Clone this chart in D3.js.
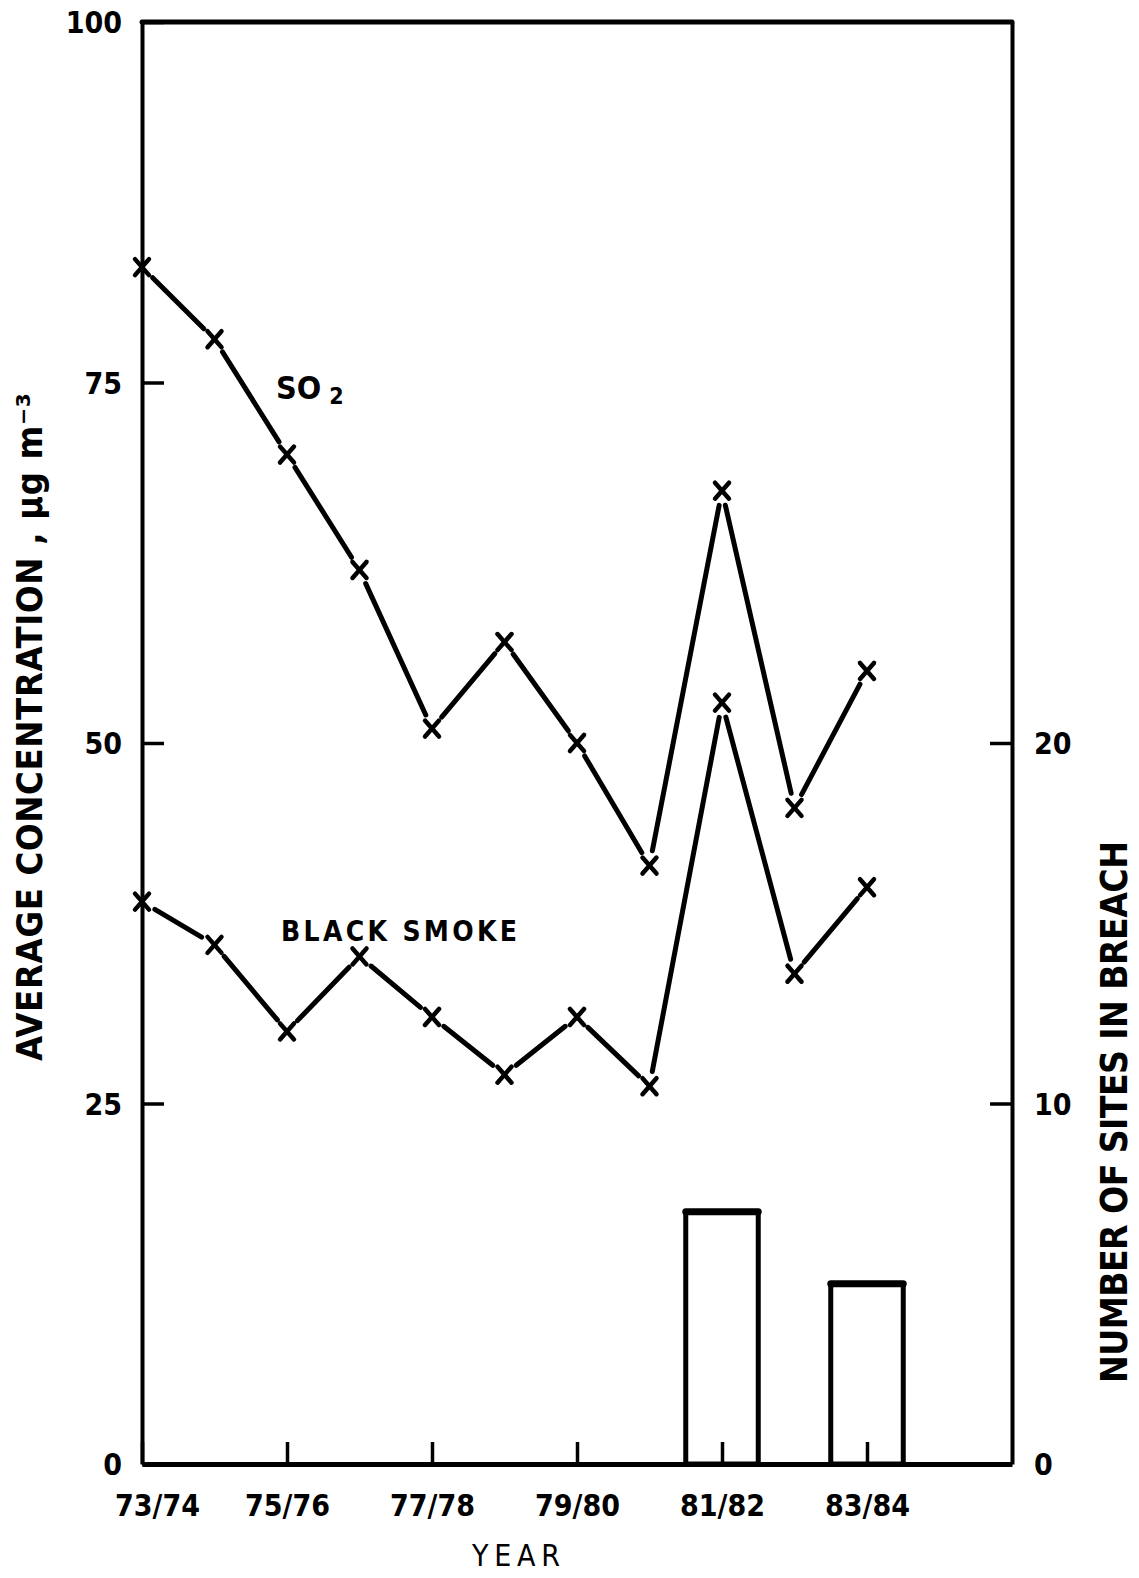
<!DOCTYPE html>
<html>
<head>
<meta charset="utf-8">
<script src="https://cdn.jsdelivr.net/npm/d3@7/dist/d3.min.js"></script>
<style>
  html, body { margin: 0; padding: 0; background: #fff; }
  svg { display: block; }
  .tick text { font-family: "DejaVu Sans Condensed", "DejaVu Sans", sans-serif; font-size: 30px; font-weight: bold; fill: #000; }
  .lbl { font-family: "DejaVu Sans Condensed", "DejaVu Sans", sans-serif; fill: #000; }
</style>
</head>
<body>
<script>
// Winter averages of SO2 and black smoke, with the number of sites breaching the limit
const years = ["73/74", "74/75", "75/76", "76/77", "77/78", "78/79", "79/80", "80/81", "81/82", "82/83", "83/84"];
const so2 = [83, 78, 70, 62, 51, 57, 50, 41.5, 67.5, 45.5, 55];
const blackSmoke = [39, 36, 30, 35.2, 31, 27, 31, 26.2, 52.8, 34, 40];
const sitesInBreach = [0, 0, 0, 0, 0, 0, 0, 0, 7, 0, 5];
const leftTicks = [0, 25, 50, 75, 100];
const rightTicks = [0, 10, 20];
const yearTicks = [0, 2, 4, 6, 8, 10];

const W = 1139, H = 1578;
const m = { left: 142, right: 1012, top: 22, bottom: 1464 };

const svg = d3.select("body").append("svg").attr("width", W).attr("height", H);

const x = d3.scaleLinear().domain([0, 12]).range([m.left, m.right]);
const y = d3.scaleLinear().domain([0, 100]).range([m.bottom, m.top]);
const y2 = d3.scaleLinear().domain([0, 40]).range([m.bottom, m.top]);

// Bars: sites in breach (right axis)
const barW = x(1) - x(0);
const bars = sitesInBreach.map((v, i) => ({ i, v })).filter(d => d.v > 0);
svg.selectAll("rect.bar").data(bars).enter().append("rect")
  .attr("class", "bar")
  .attr("x", d => x(d.i) - barW / 2)
  .attr("y", d => y2(d.v))
  .attr("width", barW)
  .attr("height", d => y2(0) - y2(d.v))
  .attr("fill", "none").attr("stroke", "#000").attr("stroke-width", 5);
svg.selectAll("line.bartop").data(bars).enter().append("line")
  .attr("x1", d => x(d.i) - barW / 2).attr("x2", d => x(d.i) + barW / 2)
  .attr("y1", d => y2(d.v)).attr("y2", d => y2(d.v))
  .attr("stroke", "#000").attr("stroke-width", 7).attr("stroke-linecap", "round");

// Axes
const gl = svg.append("g").attr("transform", `translate(${m.left},0)`)
  .call(d3.axisLeft(y).tickValues(leftTicks).tickSizeInner(-22).tickSizeOuter(0).tickPadding(20));
const gr = svg.append("g").attr("transform", `translate(${m.right},0)`)
  .call(d3.axisRight(y2).tickValues(rightTicks).tickSizeInner(-22).tickSizeOuter(0).tickPadding(22));
const gb = svg.append("g").attr("transform", `translate(0,${m.bottom})`)
  .call(d3.axisBottom(x).tickValues(yearTicks).tickFormat(i => years[i]).tickSizeInner(-22).tickSizeOuter(0).tickPadding(31));

[gl, gr, gb].forEach(g => {
  g.select(".domain").attr("stroke", "#000").attr("stroke-width", 4);
  g.selectAll(".tick line").attr("stroke", "#000").attr("stroke-width", 3.5);
});
gb.select(".domain").attr("stroke-width", 5);
gb.selectAll(".tick text").filter(i => i === 0).attr("dx", 15);
gl.selectAll(".tick text").attr("dy", "0.36em");
gr.selectAll(".tick text").attr("dy", "0.36em");

// Top border
svg.append("line")
  .attr("x1", m.left).attr("x2", m.right).attr("y1", y(100)).attr("y2", y(100))
  .attr("stroke", "#000").attr("stroke-width", 5).attr("stroke-linecap", "round");

// Series: segments broken short of each marker
function drawSeries(values) {
  const pts = values.map((v, i) => [x(i), y(v)]);
  const segs = d3.pairs(pts).map(([a, b]) => {
    const dx = b[0] - a[0], dy = b[1] - a[1];
    const len = Math.hypot(dx, dy), gap = 15;
    const ux = dx / len, uy = dy / len;
    return [[a[0] + ux * gap, a[1] + uy * gap], [b[0] - ux * gap, b[1] - uy * gap]];
  });
  svg.append("g").selectAll("line").data(segs).enter().append("line")
    .attr("x1", d => d[0][0]).attr("y1", d => d[0][1])
    .attr("x2", d => d[1][0]).attr("y2", d => d[1][1])
    .attr("stroke", "#000").attr("stroke-width", 5).attr("stroke-linecap", "round");
  const mk = svg.append("g").selectAll("g").data(pts).enter().append("g")
    .attr("transform", d => `translate(${d[0]},${d[1]})`);
  const s = 7;
  mk.append("line").attr("x1", -s).attr("y1", -s - 1).attr("x2", s).attr("y2", s + 1);
  mk.append("line").attr("x1", -s).attr("y1", s + 1).attr("x2", s).attr("y2", -s - 1);
  mk.selectAll("line").attr("stroke", "#000").attr("stroke-width", 4.5).attr("stroke-linecap", "round");
}
drawSeries(so2);
drawSeries(blackSmoke);

// Series labels
const so2Label = svg.append("text").attr("class", "lbl").attr("x", 276).attr("y", 399)
  .attr("font-size", 32).attr("font-weight", "bold");
so2Label.append("tspan").text("SO");
so2Label.append("tspan").attr("dx", 8).attr("dy", 5).attr("font-size", 23).text("2");

svg.append("text").attr("class", "lbl").attr("x", 281).attr("y", 941)
  .attr("font-size", 28).attr("font-weight", "bold").attr("textLength", 236).text("BLACK SMOKE");

// Axis titles
svg.append("text").attr("class", "lbl")
  .attr("transform", `translate(42,727) rotate(-90)`)
  .attr("text-anchor", "middle").attr("font-size", 36).attr("font-weight", "bold").attr("textLength", 668)
  .text("AVERAGE CONCENTRATION , µg m⁻³");

svg.append("text").attr("class", "lbl")
  .attr("transform", `translate(1127,1112) rotate(-90)`)
  .attr("text-anchor", "middle").attr("font-size", 37).attr("font-weight", "bold").attr("textLength", 542)
  .text("NUMBER OF SITES IN BREACH");

svg.append("text").attr("class", "lbl")
  .attr("x", 516).attr("y", 1566).attr("text-anchor", "middle").attr("font-size", 30)
  .attr("textLength", 88)
  .text("YEAR");
</script>
</body>
</html>
